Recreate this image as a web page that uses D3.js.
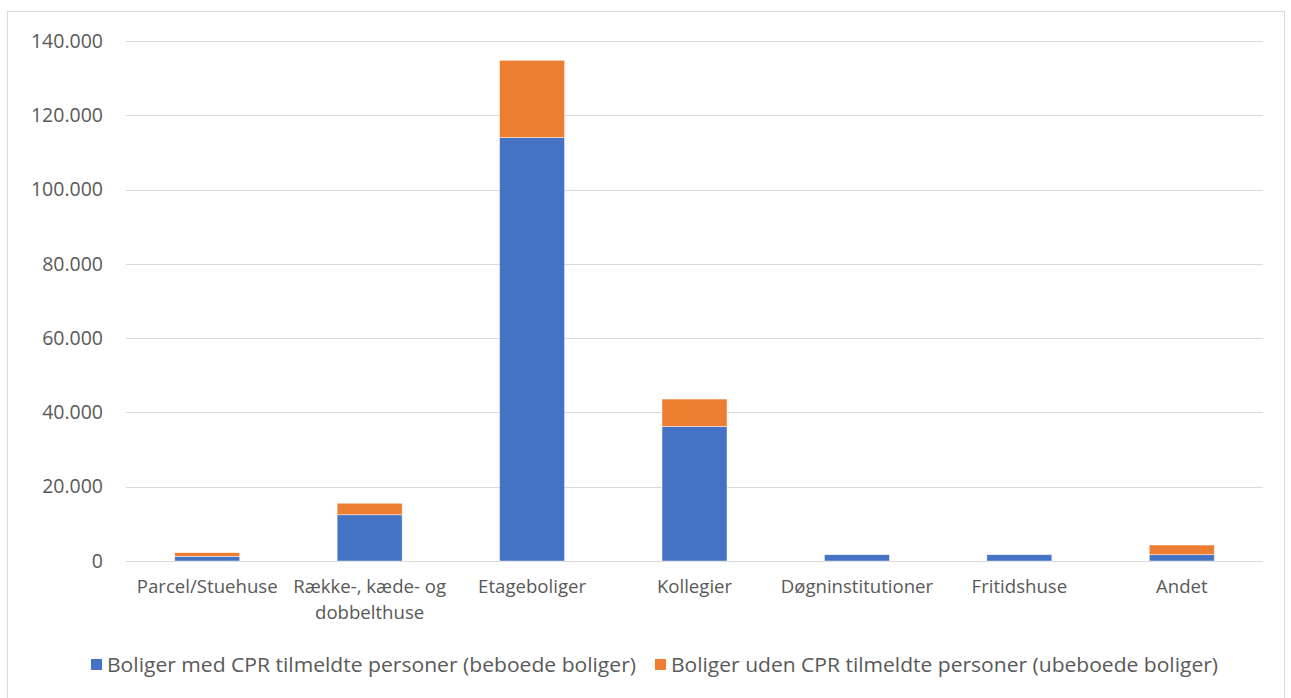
<!DOCTYPE html>
<html lang="da">
<head>
    <meta charset="UTF-8">
    <title>Boliger</title>
    <script src="https://d3js.org/d3.v7.min.js"></script>
    <style>
        body { margin: 0; background: #fff; }
        text { font-family: "Open Sans", sans-serif; fill: #595959; }
    </style>
</head>
<body>
    <svg width="1291" height="698"></svg>

    <script>
        // Data
        const categories = ["Parcel/Stuehuse", "Række-, kæde- og dobbelthuse", "Etageboliger", "Kollegier",
            "Døgninstitutioner", "Fritidshuse", "Andet"];
        const beboede = [1250, 12450, 114000, 36250, 1700, 1700, 1700];
        const ubeboede = [1000, 3100, 20800, 7350, 0, 0, 2600];
        const yTicks = [0, 20000, 40000, 60000, 80000, 100000, 120000, 140000];
        const seriesNames = ["Boliger med CPR tilmeldte personer (beboede boliger)",
            "Boliger uden CPR tilmeldte personer (ubeboede boliger)"];
        const colors = ["#4472c4", "#ed7d31"];

        const svg = d3.select("svg");

        // chart border
        svg.append("rect")
            .attr("x", 7.5).attr("y", 11.5)
            .attr("width", 1277).attr("height", 690)
            .attr("fill", "none").attr("stroke", "#d9d9d9");

        const margin = { top: 41, left: 126, right: 28, bottom: 137 };
        const width = 1291 - margin.left - margin.right;
        const height = 698 - margin.top - margin.bottom;

        const g = svg.append("g").attr("transform", `translate(${margin.left},${margin.top})`);

        const x = d3.scaleBand().domain(categories).range([0, width]).paddingInner(0.6).paddingOuter(0.3);
        const y = d3.scaleLinear().domain([0, 140000]).range([height, 0]);

        const fmt = v => d3.format(",")(v).replace(/,/g, ".");

        // gridlines
        g.append("g")
            .selectAll("line").data(yTicks).join("line")
            .attr("x1", 0).attr("x2", width)
            .attr("y1", d => Math.round(y(d)) + 0.5).attr("y2", d => Math.round(y(d)) + 0.5)
            .attr("stroke", "#d9d9d9").attr("stroke-width", 1);

        // y axis labels
        const yAxis = g.append("g")
            .call(d3.axisLeft(y).tickValues(yTicks).tickFormat(fmt).tickSize(0).tickPadding(23));
        yAxis.select(".domain").remove();
        yAxis.selectAll("text").style("font-size", "19.5px").style("font-family", "'Open Sans', sans-serif")
            .attr("fill", "#595959");

        // stacked bars
        const stackData = categories.map((c, i) => ({ cat: c, s0: beboede[i], s1: ubeboede[i] }));
        const stack = d3.stack().keys(["s0", "s1"])(stackData);

        g.append("g").selectAll("g").data(stack).join("g")
            .attr("fill", (d, i) => colors[i])
            .selectAll("rect").data(d => d.filter(p => p[1] > p[0])).join("rect")
            .attr("x", d => x(d.data.cat))
            .attr("width", x.bandwidth())
            .attr("y", d => y(d[1]))
            .attr("height", d => y(d[0]) - y(d[1]))
            .attr("stroke", "#fff").attr("stroke-opacity", 0.6).attr("stroke-width", 0.75);

        // x axis labels
        const xAxis = g.append("g").attr("transform", `translate(0,${height})`)
            .call(d3.axisBottom(x).tickSize(0).tickPadding(19));
        xAxis.select(".domain").remove();
        xAxis.selectAll("text").style("font-size", "18.6px").style("font-family", "'Open Sans', sans-serif")
            .attr("fill", "#595959")
            .each(function (d) {
                if (d.startsWith("Række")) {
                    const t = d3.select(this).text("");
                    t.append("tspan").attr("x", 0).attr("dy", "0.71em").text("Række-, kæde- og");
                    t.append("tspan").attr("x", 0).attr("dy", "1.4em").text("dobbelthuse");
                    t.attr("dy", null);
                }
            });

        // legend
        const legend = svg.append("g").attr("transform", "translate(0,665)");
        const legendX = [91, 655];
        const legendW = [529, 547];
        seriesNames.forEach((name, i) => {
            legend.append("rect").attr("x", legendX[i]).attr("y", -6).attr("width", 11).attr("height", 11)
                .attr("fill", colors[i]);
            legend.append("text").attr("x", legendX[i] + 16).attr("y", 0).attr("dy", "0.35em")
                .style("font-size", "19.5px").attr("fill", "#595959")
                .attr("textLength", legendW[i]).attr("lengthAdjust", "spacingAndGlyphs")
                .text(name);
        });
    </script>
</body>
</html>
